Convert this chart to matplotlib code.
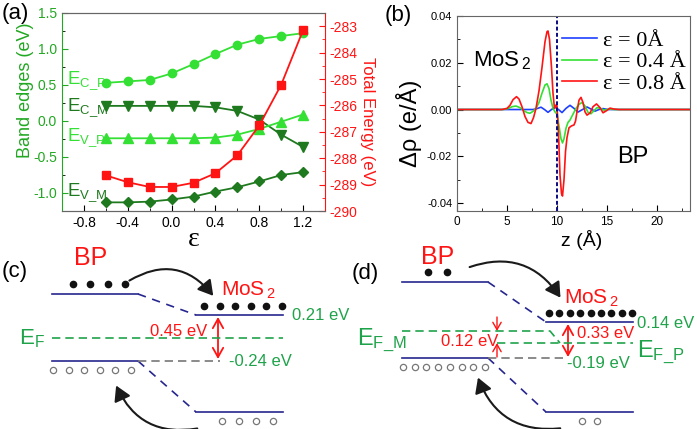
import numpy as np
import matplotlib.pyplot as plt
from matplotlib.ticker import MultipleLocator, FormatStrFormatter
from matplotlib.patches import FancyArrowPatch

plt.rcParams['font.family'] = ['Liberation Sans', 'DejaVu Sans']
plt.rcParams['mathtext.fontset'] = 'custom'
plt.rcParams['mathtext.rm'] = 'Liberation Sans'
plt.rcParams['mathtext.it'] = 'Liberation Sans'
plt.rcParams['mathtext.default'] = 'rm'
plt.rcParams['axes.unicode_minus'] = False

# ---------------- data: panel (a) ----------------
strain = [-0.6, -0.4, -0.2, 0.0, 0.2, 0.4, 0.6, 0.8, 1.0, 1.2]
e_c_p = [0.53, 0.55, 0.57, 0.66, 0.79, 0.93, 1.06, 1.14, 1.18, 1.22]
e_c_m = [0.21, 0.21, 0.21, 0.21, 0.21, 0.19, 0.14, 0.02, -0.19, -0.36]
e_v_p = [-0.24, -0.24, -0.24, -0.24, -0.24, -0.23, -0.19, -0.11, -0.01, 0.09]
e_v_m = [-1.13, -1.13, -1.12, -1.09, -1.05, -0.98, -0.92, -0.84, -0.75, -0.71]
total_energy = [-288.65, -288.91, -289.09, -289.09, -288.93, -288.57,
                -287.89, -286.76, -285.22, -283.15]

# ---------------- data: panel (b) ----------------
z_red = [0, 4.5, 5.0, 5.3, 5.6, 5.95, 6.2, 6.5, 6.8, 7.1, 7.4, 7.65, 7.9, 8.2,
         8.5, 8.8, 9.0, 9.1, 9.25, 9.45, 9.6, 9.75, 9.9, 10.0, 10.15, 10.3,
         10.45, 10.55, 10.7, 10.85, 11.0, 11.2, 11.45, 11.7, 11.85, 12.0, 12.2,
         12.4, 12.6, 12.8, 13.0, 13.3, 13.6, 13.95, 14.3, 14.6, 14.95, 15.3,
         15.7, 16.2, 23.3]
rho_red = [0, 0, 0.0005, 0.0018, 0.0042, 0.0055, 0.0045, 0.0012, -0.0030,
           -0.0055, -0.0060, -0.0035, 0.0005, 0.008, 0.018, 0.029, 0.0333,
           0.0336, 0.030, 0.018, 0.007, 0.0005, 0.002, 0.0015, -0.010, -0.028,
           -0.036, -0.037, -0.030, -0.018, -0.012, -0.0078, -0.0070, -0.0066,
           -0.005, -0.001, 0.004, 0.0052, 0.003, -0.0010, -0.0024, -0.0015,
           0.0012, 0.0024, 0.0008, -0.0014, -0.0005, 0.0006, 0.0002, 0, 0]

z_green = [0, 4.6, 5.1, 5.5, 5.9, 6.3, 6.7, 7.0, 7.3, 7.6, 7.9, 8.2, 8.5, 8.8,
           9.0, 9.2, 9.4, 9.6, 9.8, 10.0, 10.2, 10.4, 10.55, 10.7, 10.9, 11.1,
           11.3, 11.6, 11.9, 12.2, 12.5, 12.8, 13.1, 13.4, 13.7, 14.0, 14.3,
           14.7, 15.2, 15.8, 23.3]
rho_green = [0, 0, 0.0004, 0.0012, 0.0015, 0.0008, -0.0005, -0.0013, -0.0016,
             -0.0008, 0.0005, 0.003, 0.007, 0.0105, 0.011, 0.009, 0.004,
             0.0005, -0.001, -0.002, -0.007, -0.0125, -0.0143, -0.0125, -0.008,
             -0.0055, -0.0045, -0.002, 0.0005, 0.0022, 0.003, 0.0015, -0.0012,
             -0.0018, -0.0005, 0.0008, 0.0006, -0.0003, 0.0002, 0, 0]

z_blue = [0, 7.6, 8.0, 8.4, 8.75, 9.1, 9.45, 9.8, 10.15, 10.5, 10.9, 11.3, 11.7,
          12.1, 12.55, 13.0, 13.4, 13.8, 14.2, 14.6, 15.1, 23.3]
rho_blue = [0, 0, 0.0004, 0.0010, 0.0, -0.0012, 0.0, 0.0010, 0.0, -0.0013,
            0.0005, 0.0018, 0.0005, -0.0011, 0.0, 0.0011, 0.0002, -0.0007, 0.0,
            0.0004, 0.0, 0]

legend_labels = ['ε = 0Å', 'ε = 0.4 Å', 'ε = 0.8 Å']

# ---------------- data: panels (c) and (d) ----------------
c_labels = {'cbm': '0.21 eV', 'vbm': '-0.24 eV', 'gap': '0.45 eV'}
d_labels = {'cbm': '0.14 eV', 'vbm': '-0.19 eV', 'gap': '0.33 eV', 'shift': '0.12 eV'}
c_counts = {'e_bp': 4, 'e_mos': 6, 'h_bp': 6, 'h_mos': 4}
d_counts = {'e_bp': 2, 'e_mos': 9, 'h_bp': 8, 'h_mos': 2}

# colours
LIGHT = '#33e033'
DARK = '#1f7a1f'
AXGREEN = '#22a822'
RED = '#ff1414'
BLUE = '#1f3fff'
NAVY = '#26268f'
TXTGREEN = '#1fa34a'
GRAY = '#666666'

W, H = 697, 429
fig = plt.figure(figsize=(W / 100, H / 100), dpi=100)


def px_axes(x0, y0, x1, y1):
    return fig.add_axes([x0 / W, 1 - y1 / H, (x1 - x0) / W, (y1 - y0) / H])


# ================= panel (a) =================
ax = px_axes(62, 13, 325, 211)
ax.plot(strain, e_c_p, '-o', color=LIGHT, ms=6, lw=1.3)
ax.plot(strain, e_c_m, '-v', color=DARK, ms=7, lw=1.3)
ax.plot(strain, e_v_p, '-^', color=LIGHT, ms=7, lw=1.3)
ax.plot(strain, e_v_m, '-D', color=DARK, ms=5, lw=1.3)
ax.set_xlim(-1.0, 1.4)
ax.set_ylim(-1.25, 1.5)
ax.xaxis.set_major_locator(MultipleLocator(0.4))
ax.xaxis.set_minor_locator(MultipleLocator(0.2))
ax.xaxis.set_major_formatter(FormatStrFormatter('%.1f'))
ax.yaxis.set_major_locator(MultipleLocator(0.5))
ax.yaxis.set_minor_locator(MultipleLocator(0.25))
ax.yaxis.set_major_formatter(FormatStrFormatter('%.1f'))
ax.tick_params(which='both', direction='in', labelsize=10)
ax.tick_params(which='major', length=4)
ax.tick_params(which='minor', length=2)
ax.tick_params(axis='y', colors=AXGREEN)
ax.spines['left'].set_color(AXGREEN)
for s in ('top', 'bottom'):
    ax.spines[s].set_color(GRAY)
ax.spines['right'].set_visible(False)
ax.set_xlabel('ε', family=['Liberation Serif'], fontsize=20)
ax.xaxis.set_label_coords(0.5, -0.08, transform=ax.transAxes)
ax.set_ylabel('Band edges (eV)', color=AXGREEN, fontsize=13)
ax.yaxis.set_label_coords(-0.105, 0.61)

ax.text(-0.955, 0.56, r'E$_{C\_P}$', color=LIGHT, fontsize=13.5, va='center')
ax.text(-0.955, 0.18, r'E$_{C\_M}$', color=DARK, fontsize=13.5, va='center')
ax.text(-0.955, -0.23, r'E$_{V\_P}$', color=LIGHT, fontsize=13.5, va='center')
ax.text(-0.955, -1.0, r'E$_{V\_M}$', color=DARK, fontsize=13.5, va='center')

axr = ax.twinx()
axr.plot(strain, total_energy, '-s', color=RED, ms=5.5, lw=1.3)
axr.set_ylim(-290, -282.5)
axr.yaxis.set_major_locator(MultipleLocator(1))
axr.yaxis.set_minor_locator(MultipleLocator(0.5))
axr.yaxis.set_major_formatter(FormatStrFormatter('%d'))
axr.tick_params(which='both', direction='in', labelsize=10, colors=RED)
axr.tick_params(which='major', length=4)
axr.tick_params(which='minor', length=2)
axr.spines['right'].set_color(RED)
axr.spines['left'].set_visible(False)
axr.spines['top'].set_color(GRAY)
axr.spines['bottom'].set_color(GRAY)
axr.set_ylabel('Total Energy (eV)', color=RED, fontsize=12, rotation=270,
               va='center')
axr.yaxis.set_label_coords(1.163, 0.45)

# ================= panel (b) =================
bx = px_axes(457, 16, 690, 211)
bx.plot(z_blue, rho_blue, color=BLUE, lw=1.2, label=legend_labels[0])
bx.plot(z_green, rho_green, color=LIGHT, lw=1.2, label=legend_labels[1])
bx.plot(z_red, rho_red, color=RED, lw=1.2, label=legend_labels[2])
bx.axvline(10, color='#0a0a80', lw=1.4, ls=(0, (2, 1.2)))
bx.set_xlim(0, 23.3)
bx.set_ylim(-0.0434, 0.04)
bx.xaxis.set_major_locator(MultipleLocator(5))
bx.xaxis.set_minor_locator(MultipleLocator(2.5))
bx.yaxis.set_major_locator(MultipleLocator(0.02))
bx.yaxis.set_minor_locator(MultipleLocator(0.01))
bx.yaxis.set_major_formatter(FormatStrFormatter('%.2f'))
bx.tick_params(which='both', direction='in')
bx.tick_params(axis='x', labelsize=8.5)
bx.tick_params(axis='y', labelsize=8)
bx.tick_params(which='major', length=4)
bx.tick_params(which='minor', length=2)
for s in bx.spines.values():
    s.set_color(GRAY)
bx.set_ylabel('Δρ (e/Å)', fontsize=17)
bx.yaxis.set_label_coords(-0.15, 0.45)
bx.set_xlabel('z (Å)', fontsize=14)
bx.xaxis.set_label_coords(0.536, -0.1)
bx.text(1.6, 0.021, r'MoS$_{\,2}$', fontsize=16, va='center')
bx.text(16, -0.0203, 'BP', fontsize=17, va='center')
leg = bx.legend(loc='upper left', bbox_to_anchor=(0.45, 0.925), frameon=False,
                prop={'family': 'Liberation Serif', 'size': 16},
                handlelength=1.6, handletextpad=0.25, labelspacing=0.03,
                borderpad=0, borderaxespad=0)

# ================= panels (c), (d): band diagrams =================
sx = fig.add_axes([0, 0, 1, 1])
sx.set_xlim(0, W)
sx.set_ylim(H, 0)
sx.axis('off')
sx.patch.set_alpha(0)


def hline(x1, x2, y, **kw):
    sx.plot([x1, x2], [y, y], **kw)


def curved(p0, p1, rad):
    sx.add_patch(FancyArrowPatch(p0, p1, connectionstyle=f'arc3,rad={rad}',
                                 arrowstyle='-|>,head_length=0.6,head_width=0.35',
                                 mutation_scale=15, lw=1.5, color='#1a1a1a'))


def dbl(x, y0, y1):
    sx.add_patch(FancyArrowPatch((x, y0), (x, y1), arrowstyle='<->,head_length=0.45,head_width=0.25',
                                 mutation_scale=15, lw=1.3, color=RED, shrinkA=0, shrinkB=0))


def diagram(x0, y_bp_c, y_mos_c, y_bp_v, counts):
    # band edges
    hline(x0 + 52, x0 + 138, y_bp_c, color=NAVY, lw=1.2)
    hline(x0 + 196, x0 + 283, y_mos_c, color=NAVY, lw=1.2)
    hline(x0 + 52, x0 + 138, y_bp_v, color=NAVY, lw=1.2)
    hline(x0 + 196, x0 + 283, 412, color=NAVY, lw=1.2)
    sx.plot([x0 + 138, x0 + 196], [y_bp_c, y_mos_c], color=NAVY, lw=1.2, ls=(0, (5, 4)))
    sx.plot([x0 + 138, x0 + 196], [y_bp_v, 412], color=NAVY, lw=1.2, ls=(0, (5, 4)))
    # electrons and holes
    if counts['e_bp'] == 4:
        xs = np.linspace(x0 + 73, x0 + 125, 4)
    else:
        xs = np.linspace(x0 + 78, x0 + 97, counts['e_bp'])
    sx.plot(xs, [y_bp_c - 10] * len(xs), 'o', color='#111111', ms=4.5)
    xs = np.linspace(x0 + 204 if counts['e_mos'] < 9 else x0 + 199, x0 + 282, counts['e_mos'])
    sx.plot(xs, [y_mos_c - 9] * len(xs), 'o', color='#111111', ms=4.5)
    xs = np.linspace(x0 + 53, x0 + 131 if counts['h_bp'] == 6 else x0 + 135, counts['h_bp'])
    sx.plot(xs, [y_bp_v + 9] * len(xs), 'o', mfc='white', mec='#777777', mew=0.9, ms=4.5)
    if counts['h_mos'] == 4:
        xs = np.linspace(x0 + 222, x0 + 273, 4)
    else:
        xs = np.linspace(x0 + 232, x0 + 247, counts['h_mos'])
    sx.plot(xs, [421] * len(xs), 'o', mfc='white', mec='#777777', mew=0.9, ms=4.5)


# (c)
diagram(0, 294, 315, 361, c_counts)
hline(52, 283, 338, color=TXTGREEN, lw=1.2, ls=(0, (5, 3)))
hline(138, 220, 361, color='#777777', lw=1.2, ls=(0, (5, 3)))
dbl(218, 317, 359)
curved((127, 282), (215, 298), -0.45)
curved((200, 428), (115, 383), -0.4)
sx.text(2, 271, '(c)', fontsize=16, va='center')
sx.text(91, 258, 'BP', color=RED, fontsize=18, ha='center', va='center')
sx.text(221, 290, r'MoS$_{\,2}$', color=RED, fontsize=15, va='center')
sx.text(292, 316, c_labels['cbm'], color=TXTGREEN, fontsize=12, va='center')
sx.text(150, 331, c_labels['gap'], color=RED, fontsize=12, va='center')
sx.text(229, 362, c_labels['vbm'], color=TXTGREEN, fontsize=12, va='center')
sx.text(19, 339, r'E$_{F}$', color=TXTGREEN, fontsize=16, va='center')

# (d)
diagram(350, 282, 322, 358, d_counts)
sx.plot([402, 550, 560], [331, 331, 343], color=TXTGREEN, lw=1.2, ls=(0, (5, 3)))
hline(497, 633, 343, color=TXTGREEN, lw=1.2, ls=(0, (5, 3)))
hline(488, 568, 358, color='#777777', lw=1.2, ls=(0, (5, 3)))
dbl(568, 324, 357)
for ya, yb in ((317, 331), (357, 343)):
    sx.add_patch(FancyArrowPatch((497, ya), (497, yb), arrowstyle='->,head_length=0.35,head_width=0.2',
                                 mutation_scale=15, lw=1.0, color=RED, shrinkA=0, shrinkB=0))
curved((467, 268), (562, 300), -0.4)
curved((563, 428), (477, 375), -0.4)
sx.text(352, 273, '(d)', fontsize=16, va='center')
sx.text(438, 257, 'BP', color=RED, fontsize=18, ha='center', va='center')
sx.text(564, 298, r'MoS$_{\,2}$', color=RED, fontsize=15, va='center')
sx.text(637, 323, d_labels['cbm'], color=TXTGREEN, fontsize=12, va='center')
sx.text(577, 333, d_labels['gap'], color=RED, fontsize=12, va='center')
sx.text(567, 363, d_labels['vbm'], color=TXTGREEN, fontsize=12, va='center')
sx.text(441, 341, d_labels['shift'], color=RED, fontsize=12, va='center')
sx.text(357, 340, r'E$_{F\_M}$', color=TXTGREEN, fontsize=17, va='center')
sx.text(637, 352, r'E$_{F\_P}$', color=TXTGREEN, fontsize=17, va='center')

fig.text(2 / W, 1 - 13 / H, '(a)', fontsize=16, va='center')
fig.text(385 / W, 1 - 15 / H, '(b)', fontsize=16, va='center')

fig.savefig('out.png', dpi=100)
